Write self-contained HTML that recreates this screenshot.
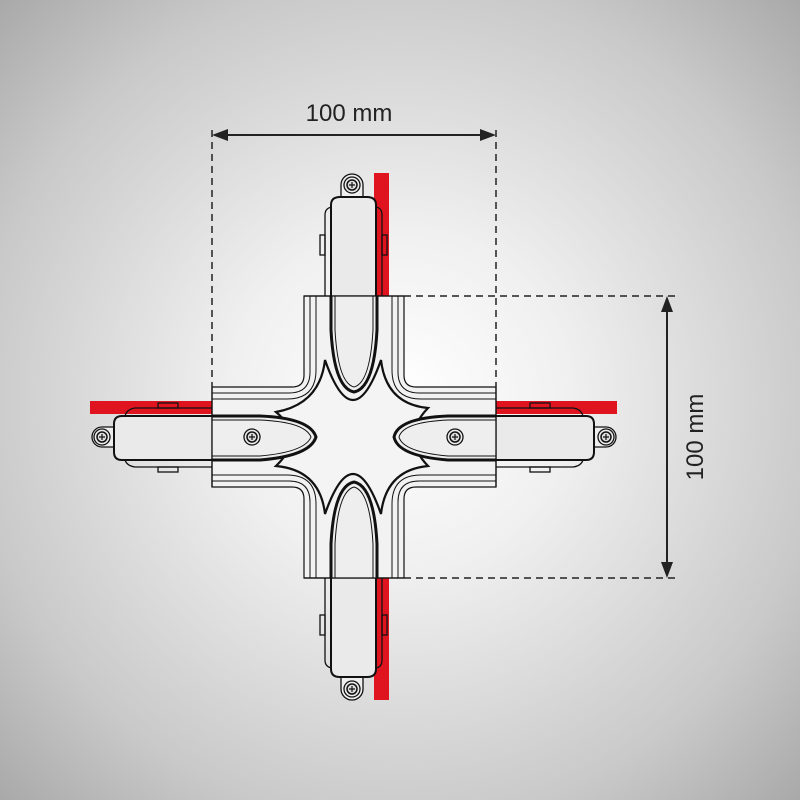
<!DOCTYPE html>
<html><head><style>
html,body{margin:0;padding:0;}
body{width:800px;height:800px;background:radial-gradient(circle at 50% 50%,#ffffff 0%,#f0f0f0 30%,#c9c9c9 75%,#a9a9a9 100%);overflow:hidden;}
svg{position:absolute;left:0;top:0;}
</style></head><body>
<svg width="800" height="800" viewBox="0 0 800 800" xmlns="http://www.w3.org/2000/svg">
<defs>
<g id="screw">
<circle r="8" fill="#eee" stroke="#111" stroke-width="1.3"/>
<circle r="5" fill="#ddd" stroke="#111" stroke-width="1.5"/>
<path d="M-3,0H3M0,-3V3" stroke="#111" stroke-width="1.2"/>
</g>
</defs>
<rect x="374" y="173" width="15" height="123" fill="#e0141e"/>
<rect x="374" y="578" width="15" height="122" fill="#e0141e"/>
<rect x="90" y="401" width="122" height="13" fill="#e0141e"/>
<rect x="496" y="401" width="121" height="13" fill="#e0141e"/>

<g fill="none" stroke="#111" stroke-width="1.3">
<path d="M341,197 V185 A11,11 0 0 1 363,185 V197" fill="#eee"/>
<path d="M325,296 V215 Q325,208 332,207 M382,296 V215 Q382,208 376,207"/>
<rect x="320" y="235" width="5" height="20"/><rect x="382" y="235" width="5" height="20"/>
<path d="M331,296 V205 Q331,197 340,197 H367 Q376,197 376,205 V296" fill="#eaeaea" stroke-width="2"/>
<path d="M341,677 V689 A11,11 0 0 0 363,689 V677" fill="#eee"/>
<path d="M325,578 V660 Q325,667 332,668 M382,578 V660 Q382,667 376,668"/>
<rect x="320" y="615" width="5" height="20"/><rect x="382" y="615" width="5" height="20"/>
<path d="M331,578 V669 Q331,677 340,677 H367 Q376,677 376,669 V578" fill="#eaeaea" stroke-width="2"/>
<path d="M114,427 H102 A10,10 0 0 0 102,447 H114" fill="#eee"/>
<path d="M125,416 Q127,409 135,408 H212 M125,460 Q127,466 135,467 H212"/>
<rect x="158" y="403" width="20" height="5"/><rect x="158" y="467" width="20" height="5"/>
<path d="M212,416 H122 Q114,416 114,424 V452 Q114,460 122,460 H212" fill="#eaeaea" stroke-width="2"/>
<path d="M594,427 H606 A10,10 0 0 1 606,447 H594" fill="#eee"/>
<path d="M583,416 Q581,409 573,408 H496 M583,460 Q581,466 573,467 H496"/>
<rect x="530" y="403" width="20" height="5"/><rect x="530" y="467" width="20" height="5"/>
<path d="M496,416 H586 Q594,416 594,424 V452 Q594,460 586,460 H496" fill="#eaeaea" stroke-width="2"/>

<path d="M304,296 H404 V375 Q404,387 416,387 H496 V487 H416 Q404,487 404,499 V578 H304 V499 Q304,487 292,487 H212 V387 H292 Q304,387 304,375 Z" fill="#f2f2f2" stroke-width="1.2"/>
<g stroke-width="1">
<path d="M310,296 V372 Q310,393 289,393 H212 M316,296 V370 Q316,399 287,399 H212"/>
<path d="M398,296 V372 Q398,393 419,393 H496 M392,296 V370 Q392,399 421,399 H496"/>
<path d="M310,578 V502 Q310,481 289,481 H212 M316,578 V504 Q316,475 287,475 H212"/>
<path d="M398,578 V502 Q398,481 419,481 H496 M392,578 V504 Q392,475 421,475 H496"/>
</g>
<path d="M325,360 Q353,440 381,360 Q386,404 428,408 Q400,437 428,466 Q386,470 381,514 Q353,434 325,514 Q320,470 276,466 Q306,437 276,412 Q320,404 325,360 Z" fill="#f4f4f4" stroke-width="2.2"/>
<path d="M331,296 V330 Q334,388 354,392 Q374,388 377,330 V296" fill="#eee" stroke-width="3"/>
<path d="M331,578 V544 Q334,486 354,482 Q374,486 377,544 V578" fill="#eee" stroke-width="3"/>
<path d="M212,416 H260 Q310,418 316,437 Q310,456 260,460 H212" fill="#eee" stroke-width="3"/>
<path d="M496,416 H448 Q398,418 394,437 Q398,456 448,460 H496" fill="#eee" stroke-width="3"/>
<g stroke-width="1">
<path d="M335,296 V330 Q338,383 354,387 Q370,383 373,330 V296"/>
<path d="M335,578 V544 Q338,491 354,487 Q370,491 373,544 V578"/>
<path d="M212,420 H260 Q305,422 311,437 Q305,452 260,456 H212"/>
<path d="M496,420 H448 Q403,422 399,437 Q403,452 448,456 H496"/>
</g>
<path d="M212,387 V487 M496,387 V487 M304,296 H404 M304,578 H404" stroke-width="1.3"/>
</g>
<use href="#screw" x="352" y="185"/>
<use href="#screw" x="352" y="689"/>
<use href="#screw" x="102" y="437"/>
<use href="#screw" x="606" y="437"/>
<use href="#screw" x="252" y="437"/>
<use href="#screw" x="455" y="437"/>

<g stroke="#222" stroke-width="1.5" fill="none" stroke-dasharray="7,5">
<path d="M212,130 V387 M496,130 V387 M404,296 H680 M404,578 H680"/>
</g>
<g stroke="#222" stroke-width="2">
<path d="M225,135 H483 M667,309 V565"/>
</g>
<path d="M212,135 L228,129 L228,141 Z M496,135 L480,129 L480,141 Z M667,296 L661,312 L673,312 Z M667,578 L661,562 L673,562 Z" fill="#222"/>
<text x="349" y="121" font-family="Liberation Sans, sans-serif" font-size="24" fill="#222" text-anchor="middle">100 mm</text>
<text transform="translate(703,437) rotate(-90)" font-family="Liberation Sans, sans-serif" font-size="24" fill="#222" text-anchor="middle">100 mm</text>
</svg>
</body></html>
